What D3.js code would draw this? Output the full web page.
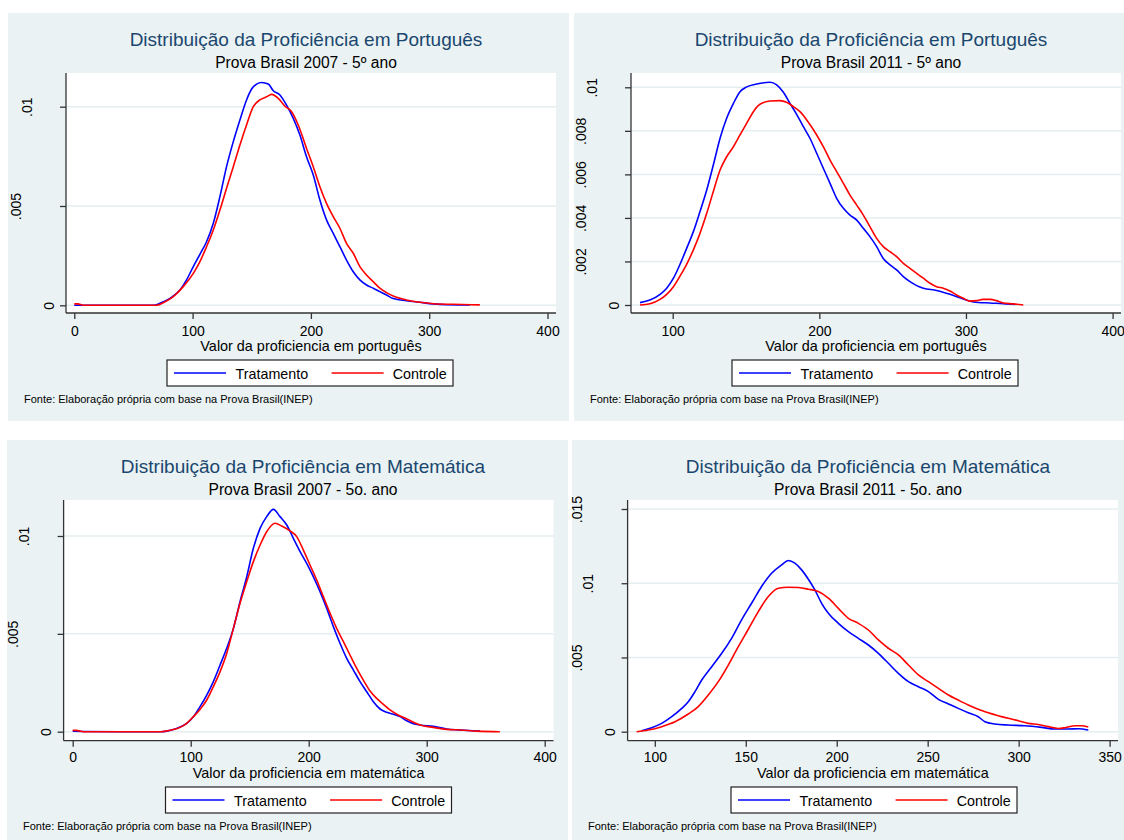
<!DOCTYPE html>
<html><head><meta charset="utf-8">
<script src="https://cdn.jsdelivr.net/npm/d3@7/dist/d3.min.js"></script>
<style>
html,body{margin:0;padding:0;background:#fff;}
svg{display:block;font-family:"Liberation Sans",Arial,sans-serif;}
</style></head>
<body>
<svg id="chart" width="1124" height="840"></svg>
<script>
// ---------- DATA ----------
const seriesNames = ["Tratamento", "Controle"];
const sourceNote = "Fonte: Elaboração própria com base na Prova Brasil(INEP)";

// Panel 1: Português 2007
const p1Title = "Distribuição da Proficiência em Português";
const p1Subtitle = "Prova Brasil 2007 - 5º ano";
const p1XLabel = "Valor da proficiencia em português";
const p1XTicks = [0, 100, 200, 300, 400];
const p1YTicks = [0, 0.005, 0.01];
const p1YTickLabels = ["0", ".005", ".01"];
const p1TratX = [0, 30, 67, 72.4, 80.8, 89.3, 94.9, 100.6, 106.2, 111.8, 117.5, 123.1, 128.7, 134.4, 140, 145.6, 149.9, 154.1, 158.3, 164, 168.2, 173.8, 179.4, 185.1, 190.7, 196.3, 202, 207.6, 213.2, 218.9, 224.5, 230.1, 235.8, 241.4, 247, 252.7, 258.3, 263.9, 269.6, 280.8, 292.1, 303.4, 314.6, 334.4];
const p1TratY = [0, 0, 0, 0.0001, 0.00035, 0.00077, 0.00128, 0.00195, 0.00257, 0.0032, 0.00413, 0.00547, 0.00698, 0.00824, 0.00933, 0.01034, 0.01089, 0.01114, 0.01122, 0.01114, 0.0108, 0.01059, 0.01008, 0.00941, 0.00857, 0.00748, 0.00656, 0.0053, 0.0043, 0.00362, 0.00295, 0.00228, 0.00169, 0.00128, 0.00102, 0.00086, 0.00069, 0.00052, 0.00034, 0.00023, 0.00015, 0.00007, 0.00003, 0.00002];
const p1CtrlX = [0, 3, 7.6, 30, 69.6, 75.2, 83.7, 92.1, 100.6, 106.2, 111.8, 117.5, 123.1, 128.7, 134.4, 140, 145.6, 151.3, 156.9, 162.5, 166.8, 172.4, 178, 183.7, 189.3, 196.3, 202, 207.6, 213.2, 218.9, 224.5, 230.1, 235.8, 241.4, 247, 252.7, 258.3, 263.9, 269.6, 280.8, 292.1, 303.4, 320.2, 342.8];
const p1CtrlY = [0.00007, 0.00007, 0, 0, 0, 0.00013, 0.00044, 0.00094, 0.00161, 0.0022, 0.00295, 0.00379, 0.0048, 0.00589, 0.00698, 0.00807, 0.00908, 0.01, 0.01034, 0.0105, 0.01062, 0.01042, 0.01003, 0.00975, 0.00908, 0.0079, 0.00698, 0.00597, 0.00513, 0.00446, 0.00388, 0.00312, 0.00262, 0.00195, 0.00153, 0.00119, 0.00086, 0.00064, 0.00047, 0.00027, 0.00015, 0.00008, 0.00005, 0.00002];

// Panel 2: Português 2011
const p2Title = "Distribuição da Proficiência em Português";
const p2Subtitle = "Prova Brasil 2011 - 5º ano";
const p2XLabel = "Valor da proficiencia em português";
const p2XTicks = [100, 200, 300, 400];
const p2YTicks = [0, 0.002, 0.004, 0.006, 0.008, 0.01];
const p2YTickLabels = ["0", ".002", ".004", ".006", ".008", ".01"];
const p2TratX = [77.7, 84.5, 91.4, 95.9, 100.5, 105, 109.5, 114.1, 118.6, 123.2, 127.7, 132.3, 136.8, 141.4, 145.9, 150.5, 157.3, 166.4, 170.9, 175.5, 180, 184.5, 189.1, 193.6, 198.2, 202.7, 207.3, 211.8, 216.4, 220.9, 225.5, 230, 234.5, 239.1, 243.6, 248.2, 252.7, 257.3, 261.8, 266.4, 270.9, 280, 289.1, 298.2, 305, 316.4, 325.5, 333.4];
const p2TratY = [0.00011, 0.00023, 0.00049, 0.00077, 0.00123, 0.00187, 0.0026, 0.00337, 0.00429, 0.00528, 0.00643, 0.00766, 0.00858, 0.00926, 0.0098, 0.01002, 0.01015, 0.01023, 0.01011, 0.00977, 0.00926, 0.00876, 0.00819, 0.00766, 0.00697, 0.00628, 0.00559, 0.0049, 0.00444, 0.00413, 0.0039, 0.00352, 0.00314, 0.00268, 0.00214, 0.00184, 0.00161, 0.0013, 0.00107, 0.00089, 0.00077, 0.00067, 0.00049, 0.00028, 0.00014, 0.00009, 0.00006, 0.00002];
const p2CtrlX = [77.7, 84.5, 91.4, 95.9, 100.5, 105, 109.5, 114.1, 118.6, 123.2, 127.7, 132.3, 136.8, 141.4, 145.9, 150.5, 155, 159.5, 166.4, 173.2, 177.7, 182.3, 186.8, 191.4, 198.2, 202.7, 207.3, 211.8, 216.4, 220.9, 225.5, 230, 234.5, 239.1, 243.6, 248.2, 252.7, 257.3, 261.8, 266.4, 270.9, 275.5, 280, 284.5, 289.1, 293.6, 298.2, 302.7, 307.3, 311.8, 316.4, 320.9, 325.5, 332.3, 339.1];
const p2CtrlY = [0, 0.00006, 0.00026, 0.00049, 0.00084, 0.00133, 0.00187, 0.00253, 0.00329, 0.00421, 0.00521, 0.0062, 0.00681, 0.00727, 0.00781, 0.00835, 0.00888, 0.00922, 0.00937, 0.00939, 0.00931, 0.00911, 0.00888, 0.0085, 0.00781, 0.00727, 0.00666, 0.00613, 0.00559, 0.00505, 0.00459, 0.00413, 0.0036, 0.00306, 0.00268, 0.00245, 0.00222, 0.00191, 0.00168, 0.00145, 0.00123, 0.001, 0.00084, 0.00077, 0.00064, 0.00046, 0.00031, 0.00018, 0.0002, 0.00026, 0.00026, 0.0002, 0.00009, 0.00005, 0];

// Panel 3: Matemática 2007
const p3Title = "Distribuição da Proficiência em Matemática";
const p3Subtitle = "Prova Brasil 2007 - 5o. ano";
const p3XLabel = "Valor da proficiencia em matemática";
const p3XTicks = [0, 100, 200, 300, 400];
const p3YTicks = [0, 0.005, 0.01];
const p3YTickLabels = ["0", ".005", ".01"];
const p3TratX = [0, 40, 74, 79.7, 88.1, 96.6, 102.3, 107.9, 113.6, 119.2, 124.9, 130.5, 136.2, 141.8, 147.5, 153.1, 158.8, 164.4, 170.1, 175.7, 181.4, 187, 192.7, 198.3, 203.9, 209.6, 215.3, 220.9, 226.6, 232.2, 237.9, 243.5, 249.2, 254.8, 260.5, 266.1, 271.8, 277.4, 283.1, 288.7, 294.4, 305.6, 316.9, 328.2, 345.2];
const p3TratY = [0.00002, 0, 0, 0.00003, 0.00017, 0.00043, 0.00077, 0.00128, 0.00187, 0.00256, 0.00341, 0.00426, 0.00528, 0.00664, 0.00792, 0.00937, 0.01039, 0.01099, 0.01136, 0.01099, 0.01056, 0.00988, 0.0092, 0.0086, 0.00792, 0.00716, 0.0063, 0.00537, 0.00451, 0.00375, 0.00315, 0.00256, 0.00204, 0.00153, 0.00116, 0.00099, 0.00089, 0.00077, 0.00056, 0.00041, 0.00034, 0.00027, 0.00014, 0.00009, 0.00003];
const p3CtrlX = [0, 3, 9, 40, 75, 82.5, 91, 96.6, 102.3, 107.9, 113.6, 119.2, 124.9, 130.5, 136.2, 141.8, 147.5, 153.1, 158.8, 164.4, 171.5, 177.1, 184.2, 189.8, 195.5, 201.1, 206.8, 212.4, 218.1, 223.7, 229.4, 235, 240.7, 246.3, 252, 257.6, 263.3, 268.9, 274.6, 283.1, 294.4, 305.6, 316.9, 328.2, 342.4, 362];
const p3CtrlY = [0.00007, 0.00007, 0, 0, 0, 0.00007, 0.00022, 0.00043, 0.00077, 0.00114, 0.00162, 0.0023, 0.00307, 0.004, 0.00528, 0.00656, 0.00767, 0.00869, 0.00954, 0.01022, 0.01065, 0.01051, 0.01026, 0.00997, 0.00928, 0.00852, 0.00775, 0.0069, 0.00605, 0.00528, 0.0046, 0.00392, 0.00324, 0.00264, 0.00208, 0.0017, 0.0014, 0.00111, 0.00089, 0.00065, 0.00034, 0.00022, 0.00012, 0.00009, 0.00003, 0];

// Panel 4: Matemática 2011
const p4Title = "Distribuição da Proficiência em Matemática";
const p4Subtitle = "Prova Brasil 2011 - 5o. ano";
const p4XLabel = "Valor da proficiencia em matemática";
const p4XTicks = [100, 150, 200, 250, 300, 350];
const p4YTicks = [0, 0.005, 0.01, 0.015];
const p4YTickLabels = ["0", ".005", ".01", ".015"];
const p4TratX = [92.8, 98.3, 103.8, 109.3, 114.8, 118.4, 122.1, 125.8, 131.3, 136.8, 142.2, 147.7, 153.2, 158.7, 164.2, 169.7, 173.4, 177, 180.7, 184.4, 188, 191.7, 195.4, 200.9, 206.4, 211.9, 217.4, 222.9, 228.4, 233.9, 239.4, 244.9, 250.4, 255.9, 261.4, 266.8, 272.3, 277.8, 281.5, 287, 294.3, 303.5, 312.6, 319.9, 327.3, 332.8, 338.3];
const p4TratY = [0.00007, 0.00027, 0.00056, 0.00101, 0.00157, 0.00202, 0.0027, 0.00348, 0.00438, 0.00528, 0.00629, 0.00753, 0.00865, 0.00978, 0.01067, 0.01124, 0.01153, 0.01135, 0.0109, 0.01027, 0.00955, 0.00865, 0.00798, 0.0073, 0.00674, 0.00629, 0.00584, 0.00528, 0.00461, 0.00393, 0.00337, 0.00303, 0.0027, 0.00218, 0.00187, 0.00157, 0.00128, 0.00101, 0.00067, 0.00052, 0.00045, 0.0004, 0.00029, 0.00018, 0.00018, 0.0002, 0.00011];
const p4CtrlX = [90, 96.4, 103.8, 111.1, 118.4, 123.9, 129.4, 134.9, 140.4, 145.9, 151.4, 156.9, 162.4, 167.9, 173.4, 178.9, 184.4, 189.9, 195.4, 200.9, 206.4, 211.9, 217.4, 222.9, 228.4, 233.9, 239.4, 244.9, 250.4, 255.9, 261.4, 266.8, 272.3, 277.8, 283.3, 288.8, 294.3, 299.8, 305.3, 310.8, 316.3, 321.8, 325.5, 331, 334.6, 338.3];
const p4CtrlY = [0, 0.00011, 0.00034, 0.00067, 0.00119, 0.00169, 0.00247, 0.00337, 0.00449, 0.00573, 0.0069, 0.00809, 0.0091, 0.00966, 0.00973, 0.00971, 0.0096, 0.00944, 0.00899, 0.00831, 0.00764, 0.0073, 0.00685, 0.00618, 0.00562, 0.00517, 0.00449, 0.00382, 0.00337, 0.00292, 0.00247, 0.00213, 0.0018, 0.00151, 0.00128, 0.00108, 0.0009, 0.00074, 0.00056, 0.00049, 0.00034, 0.00022, 0.00027, 0.0004, 0.0004, 0.00031];

// ---------- STYLE / LAYOUT ----------
const BG = "#eaf2f3", GRID = "#e4eef0", TITLE = "#1a476f", AXIS = "#333";
const COLORS = ["#0000ff", "#ff0000"];
const FONT = '"Liberation Sans",Arial,sans-serif';
const svg = d3.select("#chart");

const panels = [
  {title:p1Title, sub:p1Subtitle, xl:p1XLabel, xt:p1XTicks, yt:p1YTicks, ytl:p1YTickLabels,
   xd:[0,400], yd:[0,0.01], series:[[p1TratX,p1TratY],[p1CtrlX,p1CtrlY]],
   bg:[8,13,561,408], plot:[66,73,556,313], xr:[74.3,547.5], yr:[305.3,106.7],
   titleX:306, legX:167, base:0, tickY:23},
  {title:p2Title, sub:p2Subtitle, xl:p2XLabel, xt:p2XTicks, yt:p2YTicks, ytl:p2YTickLabels,
   xd:[100,400], yd:[0,0.01], series:[[p2TratX,p2TratY],[p2CtrlX,p2CtrlY]],
   bg:[574,13,550,408], plot:[631,73,1121,313], xr:[672.7,1112.6], yr:[305,87.3],
   titleX:871, legX:732, base:0, tickY:23},
  {title:p3Title, sub:p3Subtitle, xl:p3XLabel, xt:p3XTicks, yt:p3YTicks, ytl:p3YTickLabels,
   xd:[0,400], yd:[0,0.01], series:[[p3TratX,p3TratY],[p3CtrlX,p3CtrlY]],
   bg:[7,440,561,400], plot:[63.6,500,553.5,740.7], xr:[72.7,544.7], yr:[731.7,536],
   titleX:303, legX:165.5, base:427, tickY:21.5},
  {title:p4Title, sub:p4Subtitle, xl:p4XLabel, xt:p4XTicks, yt:p4YTicks, ytl:p4YTickLabels,
   xd:[100,350], yd:[0,0.015], series:[[p4TratX,p4TratY],[p4CtrlX,p4CtrlY]],
   bg:[572,440,552,400], plot:[627.6,500,1118,740.7], xr:[654.8,1109.6], yr:[731.7,509],
   titleX:868, legX:731, base:427, tickY:21.5}
];

panels.forEach((p) => {
  const g = svg.append("g");
  const [px0, py0, px1, py1] = p.plot;
  const base = p.base;
  g.append("rect").attr("x", p.bg[0]).attr("y", p.bg[1]).attr("width", p.bg[2]).attr("height", p.bg[3]).attr("fill", BG);
  g.append("rect").attr("x", px0).attr("y", py0).attr("width", px1 - px0).attr("height", py1 - py0).attr("fill", "#fff");

  const x = d3.scaleLinear().domain(p.xd).range(p.xr);
  const y = d3.scaleLinear().domain(p.yd).range(p.yr);

  // gridlines
  g.selectAll(".grid").data(p.yt).enter().append("line")
    .attr("x1", px0).attr("x2", px1).attr("y1", d => y(d)).attr("y2", d => y(d))
    .attr("stroke", GRID).attr("stroke-width", 1.5);

  // titles
  g.append("text").attr("x", p.titleX).attr("y", 46 + base).attr("text-anchor", "middle")
    .attr("font-size", 19).attr("fill", TITLE).text(p.title);
  g.append("text").attr("x", p.titleX).attr("y", 68 + base).attr("text-anchor", "middle")
    .attr("font-size", 15.6).attr("fill", "#000").text(p.sub);

  // x axis
  const xAxis = d3.axisBottom(x).tickValues(p.xt).tickSize(6).tickPadding(3).tickFormat(d3.format("d"));
  const xa = g.append("g").attr("transform", `translate(0,${py1})`).call(xAxis);
  xa.select(".domain").attr("d", `M${px0},0H${px1}`).attr("stroke", AXIS).attr("stroke-width", 1.3);
  xa.selectAll(".tick line").attr("stroke", AXIS).attr("stroke-width", 1.3);
  xa.selectAll(".tick text").attr("font-size", 14).attr("fill", "#000")
    .attr("font-family", FONT).attr("dy", null).attr("y", p.tickY);

  // y axis
  const yAxis = d3.axisLeft(y).tickValues(p.yt).tickSize(6).tickFormat((d, k) => p.ytl[k]);
  const ya = g.append("g").attr("transform", `translate(${px0},0)`).call(yAxis);
  ya.select(".domain").attr("d", `M0,${py0}V${py1}`).attr("stroke", AXIS).attr("stroke-width", 1.3);
  ya.selectAll(".tick line").attr("stroke", AXIS).attr("stroke-width", 1.3);
  ya.selectAll(".tick text").each(function(d, k) {
    const lab = p.ytl[k];
    const off = 6.5 + 11 * lab.length;
    d3.select(this).attr("x", null).attr("dy", null).attr("y", null)
      .attr("font-size", 14).attr("fill", "#000")
      .attr("font-family", FONT)
      .attr("text-anchor", "middle").attr("dominant-baseline", "central")
      .attr("transform", `translate(${-off},0) rotate(-90)`);
  });

  // x label
  g.append("text").attr("x", (px0 + px1) / 2).attr("y", 350.5 + base).attr("text-anchor", "middle")
    .attr("font-size", 14.4).attr("fill", "#000").text(p.xl);

  // density lines
  const line = d3.line().x(d => x(d[0])).y(d => y(d[1])).curve(d3.curveMonotoneX);
  p.series.forEach((s, k) => {
    const pts = s[0].map((v, j) => [v, s[1][j]]);
    g.append("path").datum(pts).attr("d", line).attr("fill", "none")
      .attr("stroke", COLORS[k]).attr("stroke-width", 1.6).attr("stroke-linejoin", "round");
  });

  // legend
  const ly = 360 + base;
  const lg = g.append("g").attr("transform", `translate(${p.legX},${ly})`);
  lg.append("rect").attr("x", 0).attr("y", 0).attr("width", 286).attr("height", 26)
    .attr("fill", "#fff").attr("stroke", "#222").attr("stroke-width", 1.2);
  const items = [[7, 59, 68.6], [164.6, 216.6, 225.7]];
  items.forEach((it, k) => {
    lg.append("line").attr("x1", it[0]).attr("x2", it[1]).attr("y1", 13).attr("y2", 13)
      .attr("stroke", COLORS[k]).attr("stroke-width", 1.6);
    lg.append("text").attr("x", it[2]).attr("y", 19).attr("font-size", 14.3).attr("fill", "#000").text(seriesNames[k]);
  });

  // source note
  g.append("text").attr("x", p.bg[0] + 16).attr("y", 403 + base)
    .attr("font-size", 11).attr("fill", "#000").text(sourceNote);
});
</script>
</body></html>
